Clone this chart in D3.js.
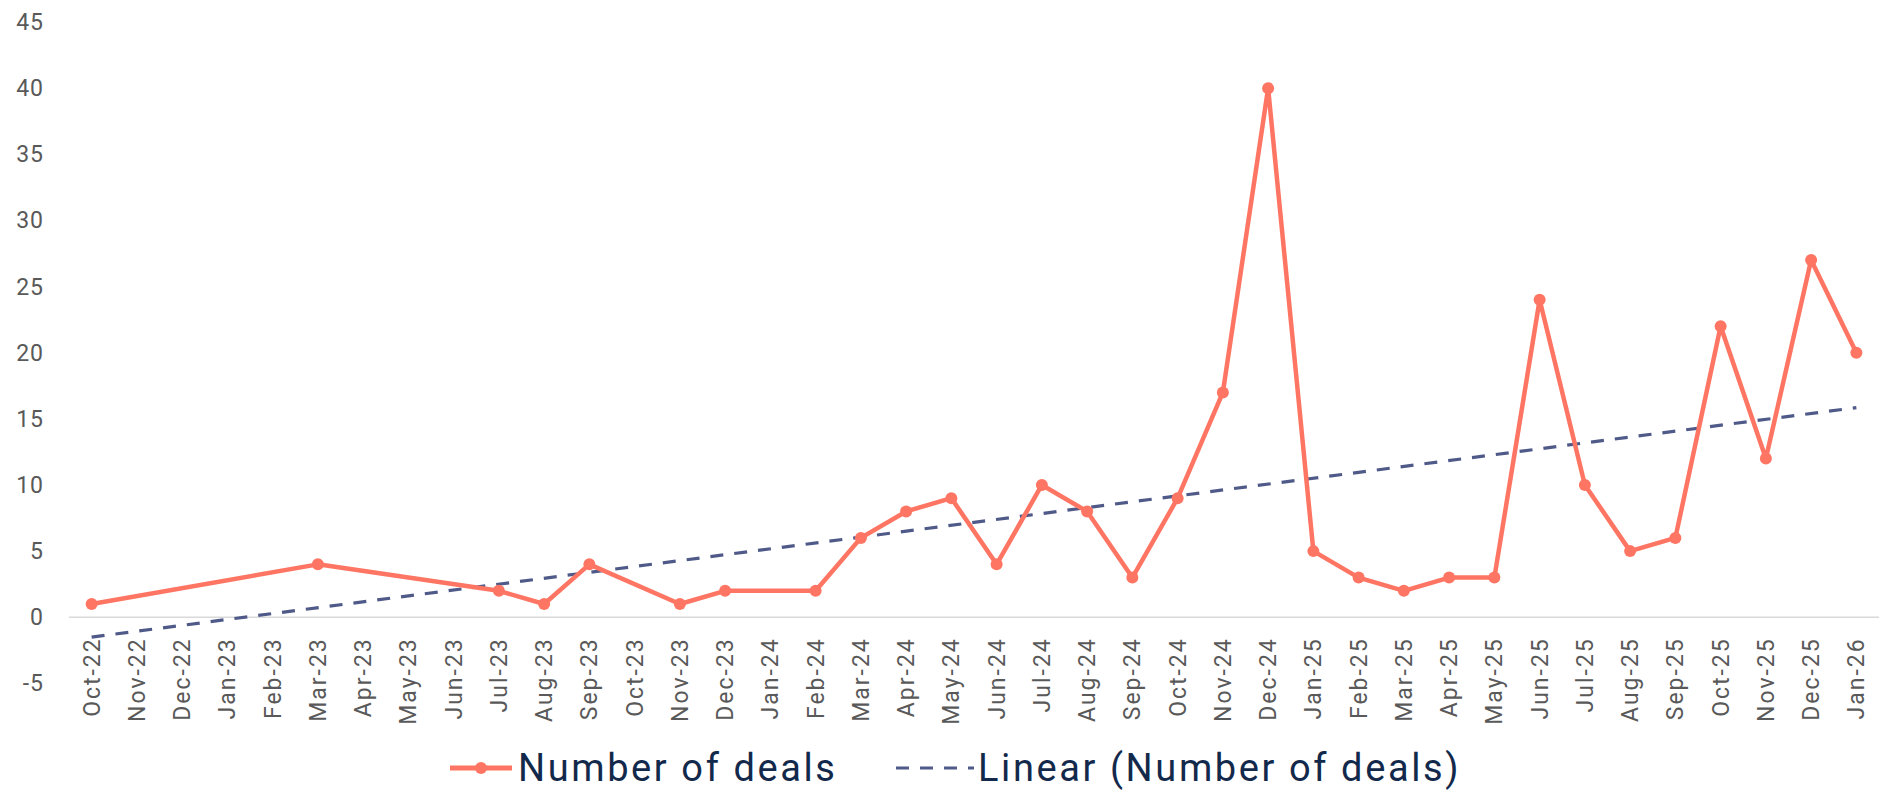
<!DOCTYPE html>
<html>
<head>
<meta charset="utf-8">
<script src="https://cdn.jsdelivr.net/npm/d3@7"></script>
<style>
  html, body { margin: 0; padding: 0; background: #fff; }
  svg text { font-family: Roboto, "Noto Sans", sans-serif; }
</style>
</head>
<body>
<div id="chart"></div>
<script>
// category axis: every month from Oct-22 to Jan-26
const months = [
  "Oct-22", "Nov-22", "Dec-22",
  "Jan-23", "Feb-23", "Mar-23", "Apr-23", "May-23", "Jun-23", "Jul-23", "Aug-23", "Sep-23", "Oct-23", "Nov-23", "Dec-23",
  "Jan-24", "Feb-24", "Mar-24", "Apr-24", "May-24", "Jun-24", "Jul-24", "Aug-24", "Sep-24", "Oct-24", "Nov-24", "Dec-24",
  "Jan-25", "Feb-25", "Mar-25", "Apr-25", "May-25", "Jun-25", "Jul-25", "Aug-25", "Sep-25", "Oct-25", "Nov-25", "Dec-25",
  "Jan-26"
];

// months that have a value (the rest are blank and the line skips them)
const dealMonths = [
  "Oct-22", "Mar-23", "Jul-23", "Aug-23", "Sep-23", "Nov-23", "Dec-23",
  "Feb-24", "Mar-24", "Apr-24", "May-24", "Jun-24", "Jul-24", "Aug-24", "Sep-24", "Oct-24", "Nov-24", "Dec-24",
  "Jan-25", "Feb-25", "Mar-25", "Apr-25", "May-25", "Jun-25", "Jul-25", "Aug-25", "Sep-25", "Oct-25", "Nov-25", "Dec-25",
  "Jan-26"
];
const dealValues = [
  1, 4, 2, 1, 4, 1, 2,
  2, 6, 8, 9, 4, 10, 8, 3, 9, 17, 40,
  5, 3, 2, 3, 3, 24, 10, 5, 6, 22, 12, 27,
  20
];

// linear trendline, read from its two ends
const trendMonths = ["Oct-22", "Jan-26"];
const trendValues = [-1.5, 15.85];

const yTicks = [-5, 0, 5, 10, 15, 20, 25, 30, 35, 40, 45];
const yTickLabels = ["-5", "0", "5", "10", "15", "20", "25", "30", "35", "40", "45"];

const seriesNames = ["Number of deals", "Linear (Number of deals)"];

const width = 1881, height = 791;
const lineColor = "#ff7563";
const trendColor = "#4f5a88";

const svg = d3.select("#chart")
  .append("svg")
  .attr("width", width)
  .attr("height", height);

const x = d3.scalePoint()
  .domain(months)
  .range([69, 1879])
  .padding(0.5);

const y = d3.scaleLinear()
  .domain([-5, 45])
  .range([683.4, 22]);

// y labels (no axis line, no gridlines)
svg.append("g")
  .selectAll("text")
  .data(yTicks)
  .enter().append("text")
  .attr("x", 44)
  .attr("y", d => y(d))
  .attr("dy", "0.35em")
  .attr("text-anchor", "end")
  .attr("fill", "#595959")
  .style("font-size", "23px")
  .style("letter-spacing", "1px")
  .text((d, i) => yTickLabels[i]);

// horizontal category axis at zero
svg.append("line")
  .attr("x1", x.range()[0])
  .attr("x2", x.range()[1])
  .attr("y1", y(0))
  .attr("y2", y(0))
  .attr("stroke", "#d9d9d9")
  .attr("stroke-width", 1.5);

// rotated month labels
svg.append("g")
  .selectAll("text")
  .data(months)
  .enter().append("text")
  .attr("transform", d => `translate(${x(d)},${y(0) + 20}) rotate(-90)`)
  .attr("dy", "0.35em")
  .attr("text-anchor", "end")
  .attr("fill", "#595959")
  .style("font-size", "23px")
  .style("letter-spacing", "2px")
  .text(d => d);

// trendline
const trendData = trendMonths.map((m, i) => ({ m: m, v: trendValues[i] }));
svg.append("path")
  .datum(trendData)
  .attr("fill", "none")
  .attr("stroke", trendColor)
  .attr("stroke-width", 3.2)
  .attr("stroke-dasharray", "13,11")
  .attr("d", d3.line().x(d => x(d.m)).y(d => y(d.v)));

// deals line + markers
const deals = dealMonths.map((m, i) => ({ m: m, v: dealValues[i] }));
svg.append("path")
  .datum(deals)
  .attr("fill", "none")
  .attr("stroke", lineColor)
  .attr("stroke-width", 4.5)
  .attr("stroke-linejoin", "round")
  .attr("d", d3.line().x(d => x(d.m)).y(d => y(d.v)));

svg.append("g")
  .selectAll("circle")
  .data(deals)
  .enter().append("circle")
  .attr("cx", d => x(d.m))
  .attr("cy", d => y(d.v))
  .attr("r", 6)
  .attr("fill", lineColor);

// legend
const legendY = 768;
const lg = svg.append("g");

lg.append("line")
  .attr("x1", 450).attr("x2", 512)
  .attr("y1", legendY).attr("y2", legendY)
  .attr("stroke", lineColor)
  .attr("stroke-width", 5);
lg.append("circle")
  .attr("cx", 481).attr("cy", legendY)
  .attr("r", 6)
  .attr("fill", lineColor);
lg.append("text")
  .attr("x", 518).attr("y", legendY)
  .attr("dy", "0.35em")
  .attr("fill", "#13294b")
  .style("font-size", "38px")
  .style("letter-spacing", "2.6px")
  .text(seriesNames[0]);

lg.append("line")
  .attr("x1", 896).attr("x2", 974)
  .attr("y1", legendY).attr("y2", legendY)
  .attr("stroke", trendColor)
  .attr("stroke-width", 3.2)
  .attr("stroke-dasharray", "13,11");
lg.append("text")
  .attr("x", 978).attr("y", legendY)
  .attr("dy", "0.35em")
  .attr("fill", "#13294b")
  .style("font-size", "38px")
  .style("letter-spacing", "2.6px")
  .text(seriesNames[1]);
</script>
</body>
</html>
